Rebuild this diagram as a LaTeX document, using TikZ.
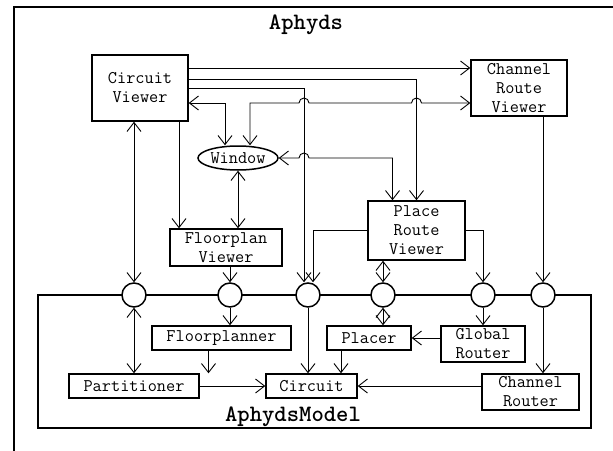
\documentclass[tikz,border=0pt]{standalone}
\usepackage{tikz}
\usetikzlibrary{arrows.meta}
\usetikzlibrary{calc}
\usetikzlibrary{shapes.geometric}

\begin{document}
\begin{tikzpicture}[
x=1pt,y=-1pt,
box/.style={
  draw,
  line width=1.5pt,
  inner sep=0pt,
  align=center,
  font=\ttfamily\fontsize{17.8}{19}\selectfont
  },
port/.style={
  draw,
  circle,
  fill=white,
  line width=1.5pt,
  inner sep=0pt,
  minimum size=24pt
  },
heading/.style={font=\ttfamily\bfseries\fontsize{23.5}{25}\selectfont},
link/.style={line width=0.9pt, -{Straight Barb[length=9pt,width=14pt]}},
both/.style={line width=0.9pt, {Straight Barb[length=9pt,width=14pt]}-{Straight Barb[length=9pt,width=14pt]}}
]
\path[use as bounding box] (0,0) rectangle (613,450);
\draw[line width=1.5pt] (14,7) rectangle (660,500);
\node[heading] (title) at (306,25) {Aphyds};

% viewers
\node[box, minimum width=96pt, minimum height=66pt] (cv) at (140,88) {Circuit\\Viewer};
\node[box, minimum width=96pt, minimum height=56pt] (crv) at (519,88) {Channel\\Route\\Viewer};
\node[box, ellipse, minimum width=80pt, minimum height=24pt] (win) at (238,158) {Window};
\node[box, minimum width=97pt, minimum height=59pt] (prv) at (416.5,230.5) {Place\\Route\\Viewer};
\node[box, minimum width=112pt, minimum height=37pt] (fv) at (226,247.5) {Floorplan\\Viewer};

% model
\node[draw, line width=1.5pt, minimum width=553pt, minimum height=133pt] (model) at (314.5,361.5) {};
\node[heading] (modelname) at (293,417) {AphydsModel};
\foreach \n/\x in {1/134,2/230,3/308,4/383,5/483,6/543}
  \node[port] (c\n) at (\x,295) {};
\node[box, minimum width=139pt, minimum height=24pt] (fp) at (221.5,338) {Floorplanner};
\node[box, minimum width=130pt, minimum height=24pt] (part) at (134,386) {Partitioner};
\node[box, minimum width=91pt, minimum height=24pt] (circ) at (311.5,386) {Circuit};
\node[box, minimum width=84pt, minimum height=24pt] (placer) at (369,338) {Placer};
\node[box, minimum width=84pt, minimum height=36pt] (gr) at (483,344) {Global\\Router};
\node[box, minimum width=97pt, minimum height=36pt] (cr) at (530.5,392) {Channel\\Router};

\coordinate (c3a) at ([xshift=-4pt]c3.north);
\coordinate (c3b) at ([xshift=5pt]c3.north);
\coordinate (ylow) at ([yshift=-15pt]cv.east);
\coordinate (fvin) at ([xshift=-47pt]fv.north);
\coordinate (fpout) at ([xshift=-13pt]fp.south);
\coordinate (plout) at ([xshift=-28pt]placer.south);

% from the circuit viewer
\draw[link] ([yshift=20pt]cv.east) -- ([yshift=20pt]crv.west);
\draw[link] ([yshift=9pt]cv.east) -| (prv.north);
\draw[link] (cv.east) -| (c3a);
\draw[both] (ylow) -| ([xshift=-13pt]win.north);
\draw[link] (fvin |- cv.south) -- (fvin);
\draw[both] (c1 |- cv.south) -- (c1.north);

% window
\draw[both] ([xshift=12pt]win.north) |- ($(c3a |- ylow)+(-5pt,0)$)
  arc[start angle=180,end angle=0,radius=5pt]
  -- ($(prv.north |- ylow)+(-5pt,0)$)
  arc[start angle=180,end angle=0,radius=5pt]
  -- ([yshift=-15pt]crv.west);
\draw[both] (win.east) -- ($(c3a |- win.east)+(-5pt,0)$)
  arc[start angle=180,end angle=0,radius=5pt]
  -| ([xshift=-24pt]prv.north);
\draw[both] (win.south) -- (win.south |- fv.north);

% place route viewer
\draw[link] (prv.west) -| (c3b);
\draw[link] (prv.east) -| (c5.north);
\draw[both] (c4 |- prv.south) -- (c4.north);
\draw[link] (c6 |- crv.south) -- (c6.north);
\draw[link] (c2 |- fv.south) -- (c2.north);

% inside the model
\draw[both] (c1.south) -- (part.north);
\draw[link] (c2.south) -- (c2 |- fp.north);
\draw[link] (c3.south) -- (c3 |- circ.north);
\draw[both] (c4.south) -- (c4 |- placer.north);
\draw[link] (c5.south) -- (c5 |- gr.north);
\draw[link] (c6.south) -- (c6 |- cr.north);
\draw[link] (fpout) -- (fpout |- circ.north);
\draw[link] (plout) -- (plout |- circ.north);
\draw[link] (part.east) -- (circ.west);
\draw[link] (cr.west |- circ.east) -- (circ.east);
\draw[link] (gr.west |- placer.east) -- (placer.east);
\end{tikzpicture}
\end{document}
